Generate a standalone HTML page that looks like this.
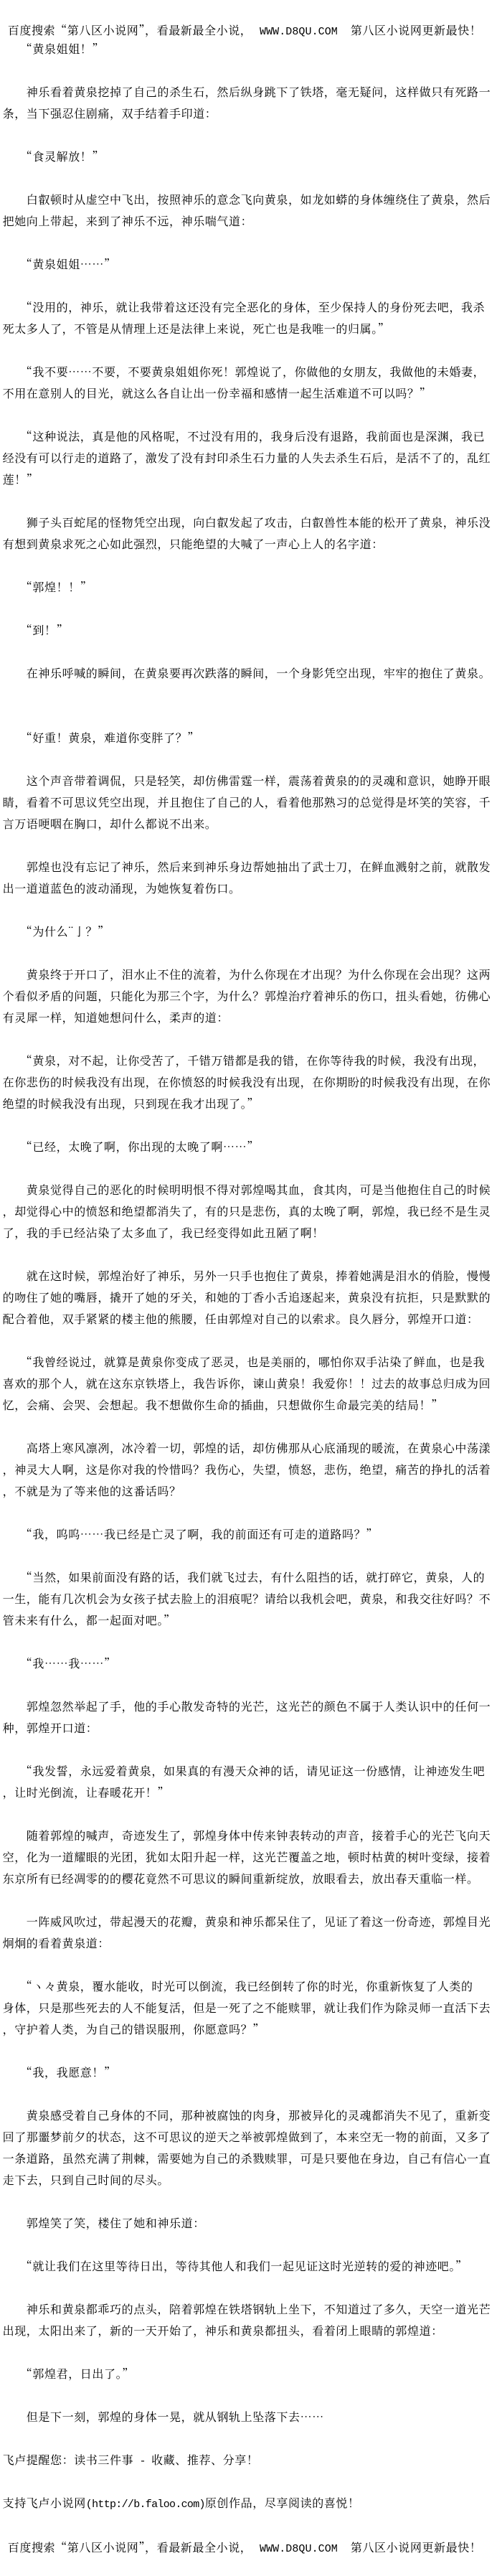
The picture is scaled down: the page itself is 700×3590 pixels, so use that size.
<!DOCTYPE html>
<html lang="zh-CN">
<head>
<meta charset="utf-8">
<title>第八区小说网</title>
<style>
html,body{margin:0;padding:0;background:#fff;}
body{width:700px;height:3590px;position:relative;overflow:hidden;color:#000;}
p{position:absolute;left:3.6px;margin:0;white-space:pre;line-height:30px;height:30px;font-size:16px;letter-spacing:.6px;font-family:"WenQuanYi Zen Hei","Noto Serif CJK SC","Liberation Serif",serif;}
.m{font-family:"Liberation Mono",monospace;font-size:15px;letter-spacing:-.7px;}
.w{font-family:"Liberation Mono",monospace;font-size:15px;letter-spacing:.07px;margin-left:10.6px;margin-right:18px;}
</style>
</head>
<body>
<p style="top:27px;left:10.8px">百度搜索“第八区小说网”，看最新最全小说，<span class="w">WWW.D8QU.COM</span>第八区小说网更新最快！</p>
<p style="top:53px">　　“黄泉姐姐！”</p>
<p style="top:113px">　　神乐看着黄泉挖掉了自己的杀生石，然后纵身跳下了铁塔，毫无疑问，这样做只有死路一</p>
<p style="top:143px">条，当下强忍住剧痛，双手结着手印道：</p>
<p style="top:203px">　　“食灵解放！”</p>
<p style="top:263px">　　白叡顿时从虚空中飞出，按照神乐的意念飞向黄泉，如龙如蟒的身体缠绕住了黄泉，然后</p>
<p style="top:293px">把她向上带起，来到了神乐不远，神乐喘气道：</p>
<p style="top:353px">　　“黄泉姐姐……”</p>
<p style="top:413px">　　“没用的，神乐，就让我带着这还没有完全恶化的身体，至少保持人的身份死去吧，我杀</p>
<p style="top:443px">死太多人了，不管是从情理上还是法律上来说，死亡也是我唯一的归属。”</p>
<p style="top:503px">　　“我不要……不要，不要黄泉姐姐你死！郭煌说了，你做他的女朋友，我做他的未婚妻，</p>
<p style="top:533px">不用在意别人的目光，就这么各自让出一份幸福和感情一起生活难道不可以吗？”</p>
<p style="top:593px">　　“这种说法，真是他的风格呢，不过没有用的，我身后没有退路，我前面也是深渊，我已</p>
<p style="top:623px">经没有可以行走的道路了，激发了没有封印杀生石力量的人失去杀生石后，是活不了的，乱红</p>
<p style="top:653px">莲！”</p>
<p style="top:713px">　　狮子头百蛇尾的怪物凭空出现，向白叡发起了攻击，白叡兽性本能的松开了黄泉，神乐没</p>
<p style="top:743px">有想到黄泉求死之心如此强烈，只能绝望的大喊了一声心上人的名字道：</p>
<p style="top:803px">　　“郭煌！！”</p>
<p style="top:863px">　　“到！”</p>
<p style="top:923px">　　在神乐呼喊的瞬间，在黄泉要再次跌落的瞬间，一个身影凭空出现，牢牢的抱住了黄泉。</p>
<p style="top:1013px">　　“好重！黄泉，难道你变胖了？”</p>
<p style="top:1073px">　　这个声音带着调侃，只是轻笑，却仿佛雷霆一样，震荡着黄泉的的灵魂和意识，她睁开眼</p>
<p style="top:1103px">睛，看着不可思议凭空出现，并且抱住了自己的人，看着他那熟习的总觉得是坏笑的笑容，千</p>
<p style="top:1133px">言万语哽咽在胸口，却什么都说不出来。</p>
<p style="top:1193px">　　郭煌也没有忘记了神乐，然后来到神乐身边帮她抽出了武士刀，在鲜血溅射之前，就散发</p>
<p style="top:1223px">出一道道蓝色的波动涌现，为她恢复着伤口。</p>
<p style="top:1283px">　　“为什么¨亅？”</p>
<p style="top:1343px">　　黄泉终于开口了，泪水止不住的流着，为什么你现在才出现？为什么你现在会出现？这两</p>
<p style="top:1373px">个看似矛盾的问题，只能化为那三个字，为什么？郭煌治疗着神乐的伤口，扭头看她，彷佛心</p>
<p style="top:1403px">有灵犀一样，知道她想问什么，柔声的道：</p>
<p style="top:1463px">　　“黄泉，对不起，让你受苦了，千错万错都是我的错，在你等待我的时候，我没有出现，</p>
<p style="top:1493px">在你悲伤的时候我没有出现，在你愤怒的时候我没有出现，在你期盼的时候我没有出现，在你</p>
<p style="top:1523px">绝望的时候我没有出现，只到现在我才出现了。”</p>
<p style="top:1583px">　　“已经，太晚了啊，你出现的太晚了啊……”</p>
<p style="top:1643px">　　黄泉觉得自己的恶化的时候明明恨不得对郭煌喝其血，食其肉，可是当他抱住自己的时候</p>
<p style="top:1673px">，却觉得心中的愤怒和绝望都消失了，有的只是悲伤，真的太晚了啊，郭煌，我已经不是生灵</p>
<p style="top:1703px">了，我的手已经沾染了太多血了，我已经变得如此丑陋了啊！</p>
<p style="top:1763px">　　就在这时候，郭煌治好了神乐，另外一只手也抱住了黄泉，捧着她满是泪水的俏脸，慢慢</p>
<p style="top:1793px">的吻住了她的嘴唇，撬开了她的牙关，和她的丁香小舌追逐起来，黄泉没有抗拒，只是默默的</p>
<p style="top:1823px">配合着他，双手紧紧的楼主他的熊腰，任由郭煌对自己的以索求。良久唇分，郭煌开口道：</p>
<p style="top:1883px">　　“我曾经说过，就算是黄泉你变成了恶灵，也是美丽的，哪怕你双手沾染了鲜血，也是我</p>
<p style="top:1913px">喜欢的那个人，就在这东京铁塔上，我告诉你，谏山黄泉！我爱你！！过去的故事总归成为回</p>
<p style="top:1943px">忆，会痛、会哭、会想起。我不想做你生命的插曲，只想做你生命最完美的结局！”</p>
<p style="top:2003px">　　高塔上寒风凛冽，冰冷着一切，郭煌的话，却仿佛那从心底涌现的暖流，在黄泉心中荡漾</p>
<p style="top:2033px">，神灵大人啊，这是你对我的怜惜吗？我伤心，失望，愤怒，悲伤，绝望，痛苦的挣扎的活着</p>
<p style="top:2063px">，不就是为了等来他的这番话吗？</p>
<p style="top:2123px">　　“我，呜呜……我已经是亡灵了啊，我的前面还有可走的道路吗？”</p>
<p style="top:2183px">　　“当然，如果前面没有路的话，我们就飞过去，有什么阻挡的话，就打碎它，黄泉，人的</p>
<p style="top:2213px">一生，能有几次机会为女孩子拭去脸上的泪痕呢？请给以我机会吧，黄泉，和我交往好吗？不</p>
<p style="top:2243px">管未来有什么，都一起面对吧。”</p>
<p style="top:2303px">　　“我……我……”</p>
<p style="top:2363px">　　郭煌忽然举起了手，他的手心散发奇特的光芒，这光芒的颜色不属于人类认识中的任何一</p>
<p style="top:2393px">种，郭煌开口道：</p>
<p style="top:2453px">　　“我发誓，永远爱着黄泉，如果真的有漫天众神的话，请见证这一份感情，让神迹发生吧</p>
<p style="top:2483px">，让时光倒流，让春暖花开！”</p>
<p style="top:2543px">　　随着郭煌的喊声，奇迹发生了，郭煌身体中传来钟表转动的声音，接着手心的光芒飞向天</p>
<p style="top:2573px">空，化为一道耀眼的光团，犹如太阳升起一样，这光芒覆盖之地，顿时枯黄的树叶变绿，接着</p>
<p style="top:2603px">东京所有已经凋零的的樱花竟然不可思议的瞬间重新绽放，放眼看去，放出春天重临一样。</p>
<p style="top:2663px">　　一阵威风吹过，带起漫天的花瓣，黄泉和神乐都呆住了，见证了着这一份奇迹，郭煌目光</p>
<p style="top:2693px">炯炯的看着黄泉道：</p>
<p style="top:2753px">　　“ヽ々黄泉，覆水能收，时光可以倒流，我已经倒转了你的时光，你重新恢复了人类的</p>
<p style="top:2783px">身体，只是那些死去的人不能复活，但是一死了之不能赎罪，就让我们作为除灵师一直活下去</p>
<p style="top:2813px">，守护着人类，为自己的错误服刑，你愿意吗？”</p>
<p style="top:2873px">　　“我，我愿意！”</p>
<p style="top:2933px">　　黄泉感受着自己身体的不同，那种被腐蚀的肉身，那被异化的灵魂都消失不见了，重新变</p>
<p style="top:2963px">回了那噩梦前夕的状态，这不可思议的逆天之举被郭煌做到了，本来空无一物的前面，又多了</p>
<p style="top:2993px">一条道路，虽然充满了荆棘，需要她为自己的杀戮赎罪，可是只要他在身边，自己有信心一直</p>
<p style="top:3023px">走下去，只到自己时间的尽头。</p>
<p style="top:3083px">　　郭煌笑了笑，楼住了她和神乐道：</p>
<p style="top:3143px">　　“就让我们在这里等待日出，等待其他人和我们一起见证这时光逆转的爱的神迹吧。”</p>
<p style="top:3203px">　　神乐和黄泉都乖巧的点头，陪着郭煌在铁塔钢轨上坐下，不知道过了多久，天空一道光芒</p>
<p style="top:3233px">出现，太阳出来了，新的一天开始了，神乐和黄泉都扭头，看着闭上眼睛的郭煌道：</p>
<p style="top:3293px">　　“郭煌君，日出了。”</p>
<p style="top:3353px">　　但是下一刻，郭煌的身体一晃，就从钢轨上坠落下去……</p>
<p style="top:3413px">飞卢提醒您：读书三件事<span class="m"> - </span>收藏、推荐、分享！</p>
<p style="top:3473px">支持飞卢小说网<span class="m">(http://b.faloo.com)</span>原创作品，尽享阅读的喜悦！</p>
<p style="top:3535px;left:10.8px">百度搜索“第八区小说网”，看最新最全小说，<span class="w">WWW.D8QU.COM</span>第八区小说网更新最快！</p>
</body>
</html>
